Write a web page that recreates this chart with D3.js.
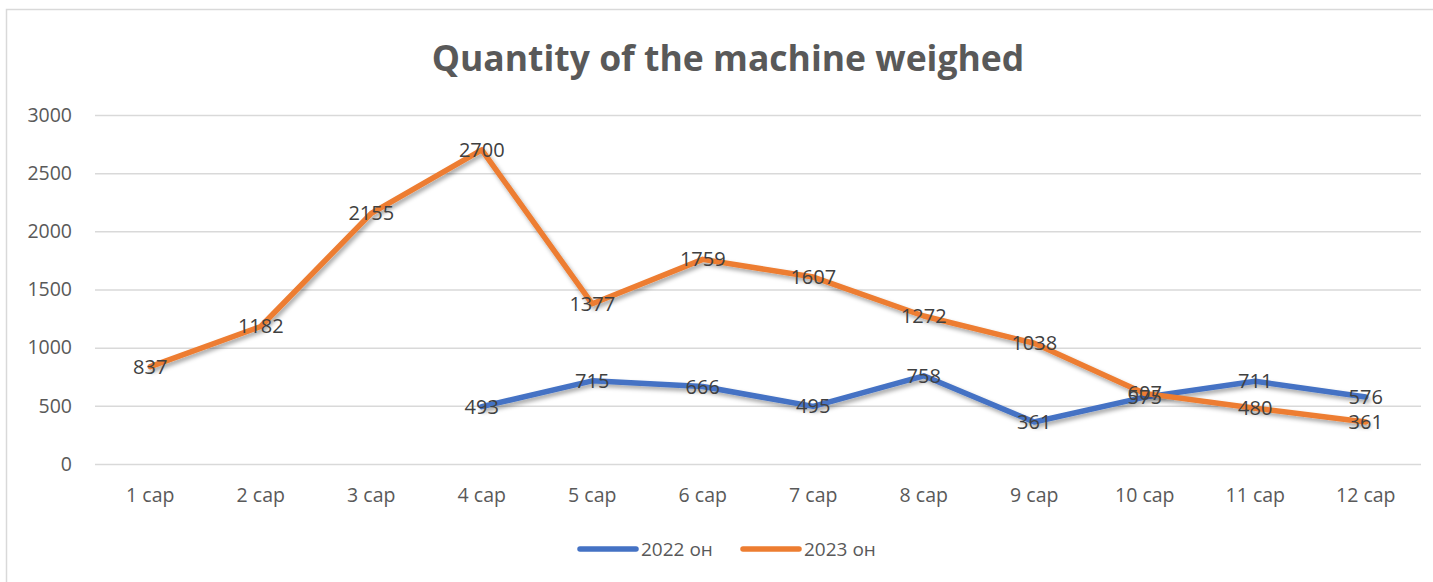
<!DOCTYPE html>
<html><head><meta charset="utf-8">
<script src="https://cdn.jsdelivr.net/npm/d3@7"></script>
<style>body{margin:0;background:#fff}svg{display:block}</style>
</head><body>
<svg id="c" width="1433" height="582"></svg>
<script>
const categories = ["1 сар","2 сар","3 сар","4 сар","5 сар","6 сар","7 сар","8 сар","9 сар","10 сар","11 сар","12 сар"];
const series2022 = [null,null,null,493,715,666,495,758,361,575,711,576];
const series2023 = [837,1182,2155,2700,1377,1759,1607,1272,1038,607,480,361];
const seriesNames = ["2022 он","2023 он"];
const yTicks = [0,500,1000,1500,2000,2500,3000];
const title = "Quantity of the machine weighed";

const colors = ["#4472C4","#ED7D31"];
const font = "'Open Sans', 'Noto Sans', sans-serif";
const svg = d3.select("#c");
const defs = svg.append("defs");
const f = defs.append("filter").attr("id","sh").attr("x","-10%").attr("y","-10%").attr("width","120%").attr("height","130%");
f.append("feDropShadow").attr("dx",2).attr("dy",3).attr("stdDeviation",2.2).attr("flood-color","#000").attr("flood-opacity",0.35);

svg.append("rect").attr("x",6.5).attr("y",9.5).attr("width",1440).attr("height",600)
  .attr("fill","#fff").attr("stroke","#d9d9d9").attr("stroke-width",1.5);

const x = d3.scaleBand().domain(categories).range([95,1421]);
const y = d3.scaleLinear().domain([0,3000]).range([464,115]);

svg.append("text").attr("x",728).attr("y",71).attr("text-anchor","middle")
  .attr("font-family",font).attr("font-weight","bold").attr("font-size",35.5).attr("fill","#595959").text(title);

const ya = svg.append("g").attr("transform","translate(95,0)")
  .call(d3.axisLeft(y).tickValues(yTicks).tickSize(-1326).tickPadding(23).tickFormat(d3.format("d")));
ya.select(".domain").remove();
ya.selectAll(".tick line").attr("stroke","#d9d9d9").attr("stroke-width",1.5);
ya.selectAll(".tick text").attr("font-family",font).attr("font-size",19.5).attr("fill","#595959");

const xa = svg.append("g").attr("transform","translate(0,464)")
  .call(d3.axisBottom(x).tickSize(0).tickPadding(24));
xa.select(".domain").remove();
xa.selectAll(".tick text").attr("font-family",font).attr("font-size",19.5).attr("fill","#595959");

const cx = d => x(d) + x.bandwidth()/2;
const line = d3.line().defined(d => d.v != null).x(d => cx(d.c)).y(d => y(d.v));
[series2022, series2023].forEach((s,i) => {
  const data = categories.map((c,j) => ({c, v: s[j]}));
  svg.append("path").datum(data).attr("d", line).attr("fill","none")
    .attr("stroke",colors[i]).attr("stroke-width",5.5).attr("stroke-linejoin","round").attr("stroke-linecap","round")
    .attr("filter","url(#sh)");
});
[series2022, series2023].forEach((s,i) => {
  const data = categories.map((c,j) => ({c, v: s[j]})).filter(d => d.v != null);
  svg.append("g").selectAll("text").data(data).join("text")
    .attr("x", d => cx(d.c)).attr("y", d => y(d.v)).attr("dy","0.35em")
    .attr("text-anchor","middle").attr("font-family",font).attr("font-size",20).attr("fill","#404040")
    .text(d => d.v);
});

const lg = svg.append("g");
const lx = [580, 743];
seriesNames.forEach((n,i) => {
  lg.append("line").attr("x1",lx[i]).attr("x2",lx[i]+56).attr("y1",549).attr("y2",549)
    .attr("stroke",colors[i]).attr("stroke-width",5.5).attr("stroke-linecap","round");
  lg.append("text").attr("x",lx[i]+61).attr("y",549).attr("dy","0.35em")
    .attr("font-family",font).attr("font-size",19).attr("fill","#595959").text(n);
});
</script>
</body></html>
